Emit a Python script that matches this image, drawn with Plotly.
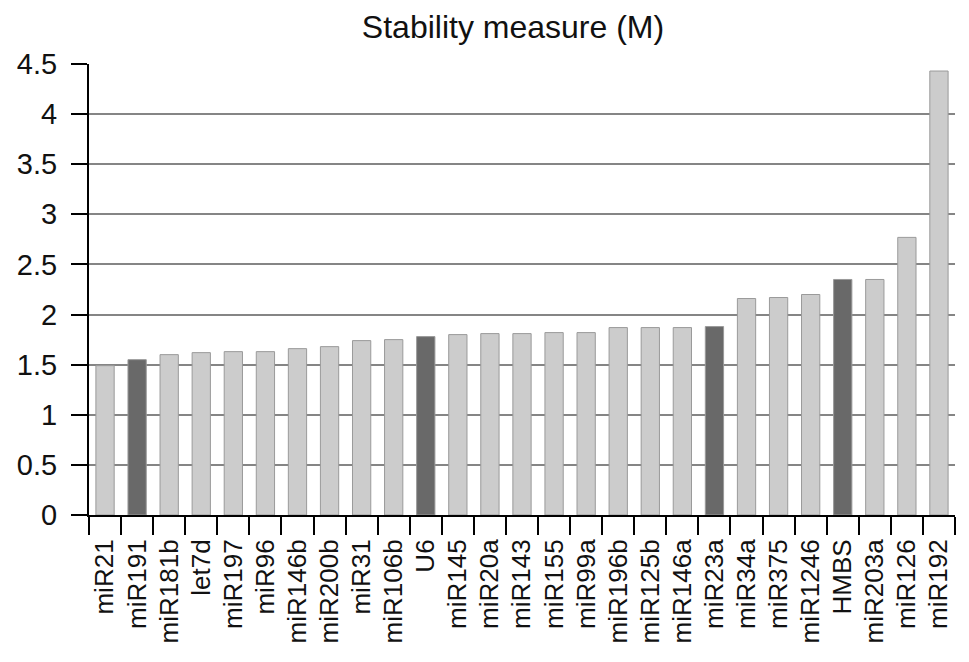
import plotly.graph_objects as go

categories = ["miR21", "miR191", "miR181b", "let7d", "miR197", "miR96", "miR146b",
              "miR200b", "miR31", "miR106b", "U6", "miR145", "miR20a", "miR143",
              "miR155", "miR99a", "miR196b", "miR125b", "miR146a", "miR23a",
              "miR34a", "miR375", "miR1246", "HMBS", "miR203a", "miR126", "miR192"]
values = [1.49, 1.55, 1.60, 1.62, 1.63, 1.63, 1.66, 1.68, 1.74, 1.75, 1.78, 1.80,
          1.81, 1.81, 1.82, 1.82, 1.87, 1.87, 1.87, 1.88, 2.16, 2.17, 2.20, 2.35,
          2.35, 2.77, 4.43]
reference_genes = ["miR191", "U6", "miR23a", "HMBS"]
y_ticks = [0, 0.5, 1, 1.5, 2, 2.5, 3, 3.5, 4, 4.5]
y_tick_labels = ["0", "0.5", "1", "1.5", "2", "2.5", "3", "3.5", "4", "4.5"]

LIGHT = "#cccccc"
DARK = "#696969"
colors = [DARK if c in reference_genes else LIGHT for c in categories]

# page has an 8px body margin, so the figure is sized/offset to compensate
W, H = 961, 654

fig = go.Figure(go.Bar(
    x=categories, y=values,
    marker=dict(color=colors, line=dict(color="#9a9a9a", width=1)),
    width=0.57,
))

fig.update_layout(
    width=W, height=H,
    margin=dict(l=81, r=14, t=56, b=147, autoexpand=False),
    paper_bgcolor="white", plot_bgcolor="white",
    font=dict(family="Liberation Sans, Arial, sans-serif", color="#111111"),
    title=dict(text="Stability measure (M)", x=(513 - 8) / W, xref="container", xanchor="center",
               y=1 - 19 / H, yref="container", yanchor="middle",
               font=dict(size=32, color="#111111")),
    showlegend=False,
    bargap=0.43,
)

fig.update_xaxes(
    type="category", tickangle=-90, tickfont=dict(size=26, color="#111111"),
    showline=True, linecolor="black", linewidth=2,
    ticks="outside", tickson="boundaries", ticklen=18, tickwidth=2, tickcolor="black",
    showgrid=False, ticklabelstandoff=12,
)
fig.update_yaxes(
    range=[0, 4.5], tickvals=y_ticks, ticktext=y_tick_labels,
    tickfont=dict(size=29, color="#111111"),
    showline=True, linecolor="black", linewidth=2,
    ticks="outside", ticklen=16, tickwidth=2, tickcolor="black",
    showgrid=True, gridcolor="#858585", gridwidth=2, zeroline=False,
    ticklabelstandoff=8,
)

fig.write_html("out.html")
